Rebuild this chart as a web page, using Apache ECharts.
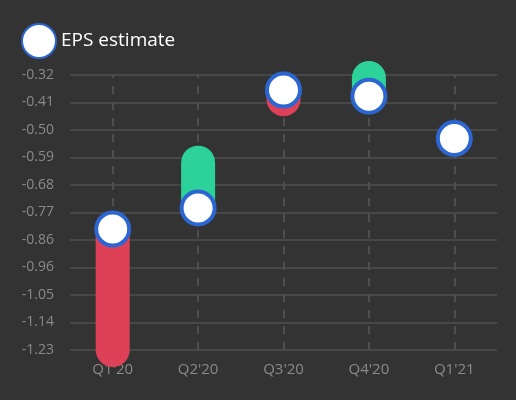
<!DOCTYPE html>
<html>
<head>
<meta charset="utf-8">
<script src="https://cdn.jsdelivr.net/npm/echarts@6/dist/echarts.min.js"></script>
<style>html,body{margin:0;padding:0;background:#333333}#main{width:516px;height:400px}</style>
</head>
<body>
<div id="main"></div>
<script>
var quarters = ["Q1'20", "Q2'20", "Q3'20", "Q4'20", "Q1'21"];
var estimates = [-0.83, -0.76, -0.37, -0.39, -0.53];
var actuals = [-1.23, -0.61, -0.40, -0.33, null];
var yTickLabels = ['-1.23', '-1.14', '-1.05', '-0.96', '-0.86', '-0.77', '-0.68', '-0.59', '-0.50', '-0.41', '-0.32'];

var yMin = -1.23, yMax = -0.32, yStep = 0.091;

var rangeData = [];
for (var i = 0; i < quarters.length; i++) {
    if (actuals[i] != null) rangeData.push([i, estimates[i], actuals[i]]);
}

var chart = echarts.init(document.getElementById('main'));
var option = {
    backgroundColor: '#333333',
    legend: {
        data: ['EPS estimate'],
        left: 16,
        top: 18,
        itemWidth: 34,
        itemHeight: 34,
        itemGap: 6,
        textStyle: { color: '#ffffff', fontSize: 19, fontFamily: 'Open Sans' }
    },
    grid: { left: 70, right: 19, top: 75, bottom: 50 },
    xAxis: {
        type: 'category',
        data: quarters,
        boundaryGap: true,
        axisLine: { show: false },
        axisTick: { show: false },
        axisLabel: { color: '#8a8a8a', fontSize: 15, fontFamily: 'Open Sans', margin: 12 }
    },
    yAxis: {
        type: 'value',
        min: yMin,
        max: yMax,
        interval: yStep,
        axisLine: { show: false },
        axisTick: { show: false },
        axisLabel: {
            color: '#8a8a8a', fontSize: 14, fontFamily: 'Open Sans', margin: 16,
            formatter: function (v) { return yTickLabels[Math.round((v - yMin) / yStep)]; }
        },
        splitLine: { lineStyle: { color: '#484848', width: 2 } }
    },
    series: [
        {
            name: 'dividers',
            type: 'line',
            data: [],
            silent: true,
            z: 0,
            zlevel: 0,
            markLine: {
                symbol: 'none',
                silent: true,
                label: { show: false },
                lineStyle: { color: '#4e4e4e', type: [8, 8], width: 2 },
                data: quarters.map(function (q) { return { xAxis: q }; })
            }
        },
        {
            name: 'range',
            type: 'custom',
            data: rangeData,
            zlevel: 1,
            z: 3,
            renderItem: function (params, api) {
                var p1 = api.coord([api.value(0), api.value(1)]);
                var p2 = api.coord([api.value(0), api.value(2)]);
                var beat = api.value(2) > api.value(1);
                return {
                    type: 'line',
                    shape: { x1: p1[0], y1: p1[1], x2: p2[0], y2: p2[1] },
                    style: { stroke: beat ? '#2dd19a' : '#de4157', lineWidth: 34, lineCap: 'round' }
                };
            }
        },
        {
            name: 'EPS estimate',
            type: 'scatter',
            data: estimates,
            zlevel: 1,
            z: 5,
            symbol: 'circle',
            symbolSize: 33,
            itemStyle: { color: '#ffffff', opacity: 1, borderColor: '#2c66d0', borderWidth: 4 }
        }
    ]
};
chart.setOption(option);
</script>
</body>
</html>
